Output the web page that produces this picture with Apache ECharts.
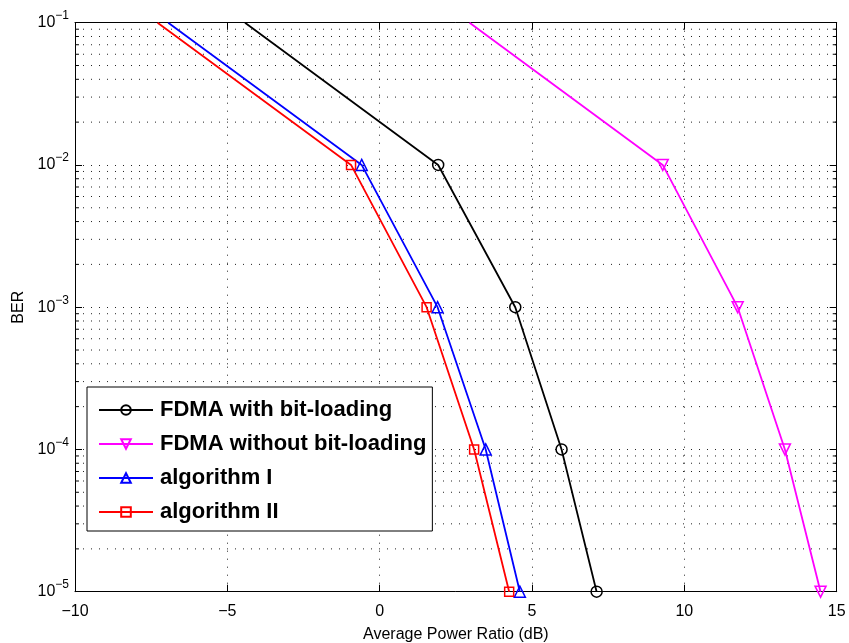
<!DOCTYPE html>
<html>
<head>
<meta charset="utf-8">
<script src="https://cdn.jsdelivr.net/npm/echarts@6/dist/echarts.min.js"></script>
<style>html,body{margin:0;padding:0;background:#fff}#c{width:849px;height:643px}</style>
</head>
<body>
<div id="c"></div>
<script>
// ---- data ----
const berLevels = [1e-1, 1e-2, 1e-3, 1e-4, 1e-5];      // first entry: where each curve enters the plot top
const xWithBL    = [-4.42, 1.92, 4.45, 5.97, 7.12];
const xWithoutBL = [2.95, 9.29, 11.75, 13.30, 14.47];
const xAlg1      = [-6.94, -0.59, 1.90, 3.48, 4.60];
const xAlg2      = [-7.29, -0.94, 1.54, 3.10, 4.25];
const seriesNames = ['FDMA with bit-loading', 'FDMA without bit-loading', 'algorithm I', 'algorithm II'];
const xTicks = [-10, -5, 0, 5, 10, 15];
const decades = [-5, -4, -3, -2];
const minorMult = [2, 3, 4, 5, 6, 7, 8, 9];

const FONT = 'Liberation Sans';
const chart = echarts.init(document.getElementById('c'), null, {renderer: 'canvas'});

function mkData(xs) {
  return xs.map((x, i) => i === 0 ? {value: [x, berLevels[i]], symbol: 'none'} : {value: [x, berLevels[i]]});
}

const dotted = {color: '#222', width: 1, type: [1, 7]};

// minor grid & tick values (log-decade subdivisions)
const minorVals = [];
decades.forEach(d => minorMult.forEach(m => minorVals.push(m * Math.pow(10, d))));
const xMin = xTicks[0], xMax = xTicks[xTicks.length - 1];
const gridData = [];
minorVals.forEach(v => { gridData.push([xMin, v], [xMax, v], [xMin, '-']); });
const tickData = [];
minorVals.forEach(v => {
  tickData.push([xMin, v], [xMin + 0.13, v], [xMin, '-']);
  tickData.push([xMax - 0.13, v], [xMax, v], [xMax, '-']);
});

function lineSeries(name, xs, color, symbol, size, rotate) {
  return {
    name: name, type: 'line', data: mkData(xs), clip: false,
    symbol: symbol, symbolSize: size, symbolRotate: rotate || 0,
    lineStyle: {color: color, width: 1.8},
    itemStyle: {color: 'rgba(0,0,0,0)', borderColor: color, borderWidth: 1.5},
    emphasis: {disabled: true}, z: 3
  };
}

const supLabel = {
  color: '#000', fontFamily: FONT, margin: 6,
  formatter: v => { const e = Math.round(Math.log10(v)); return '{b|10}{s|' + (e < 0 ? '\u2212' + (-e) : e) + '}'; },
  rich: {
    b: {fontSize: 16, fontFamily: FONT, color: '#000', lineHeight: 18},
    s: {fontSize: 12, fontFamily: FONT, color: '#000', lineHeight: 12, padding: [0, 0, 14, 0]}
  }
};

chart.setOption({
  animation: false,
  backgroundColor: '#fff',
  grid: {left: 75, right: 12.3, top: 22.7, bottom: 51.3, containLabel: false, outerBoundsMode: 'none', show: false},
  xAxis: [{
    type: 'value', min: -10, max: 15, interval: 5, position: 'bottom',
    name: 'Average Power Ratio (dB)', nameLocation: 'middle', nameGap: 35,
    nameTextStyle: {fontSize: 16, fontFamily: FONT, color: '#000'},
    axisLine: {show: true, onZero: false, lineStyle: {color: '#000', width: 1}},
    axisTick: {show: true, inside: true, length: 7, lineStyle: {color: '#000'}},
    axisLabel: {fontSize: 16, fontFamily: FONT, color: '#000', margin: 12,
      formatter: v => v < 0 ? '\u2212' + (-v) : '' + v},
    splitLine: {show: true, lineStyle: dotted}
  }, {
    type: 'value', min: -10, max: 15, interval: 5, position: 'top',
    axisLine: {show: true, onZero: false, lineStyle: {color: '#000', width: 1}},
    axisTick: {show: true, inside: true, length: 7, lineStyle: {color: '#000'}},
    axisLabel: {show: false}, splitLine: {show: false}
  }],
  yAxis: [{
    type: 'log', logBase: 10, min: 1e-5, max: 1e-1, position: 'left',
    name: 'BER', nameLocation: 'middle', nameGap: 48, nameRotate: 90,
    nameTextStyle: {fontSize: 16, fontFamily: FONT, color: '#000'},
    axisLine: {show: true, onZero: false, lineStyle: {color: '#000', width: 1}},
    axisTick: {show: true, inside: true, length: 7, lineStyle: {color: '#000'}},
    axisLabel: supLabel,
    splitLine: {show: true, lineStyle: dotted}
  }, {
    type: 'log', logBase: 10, min: 1e-5, max: 1e-1, position: 'right',
    axisLine: {show: true, onZero: false, lineStyle: {color: '#000', width: 1}},
    axisTick: {show: true, inside: true, length: 7, lineStyle: {color: '#000'}},
    axisLabel: {show: false}, splitLine: {show: false}
  }],
  legend: {
    orient: 'vertical', left: 87, top: 387,
    data: seriesNames,
    backgroundColor: '#fff', borderColor: '#000', borderWidth: 1,
    padding: [12, 6, 8, 11],
    itemWidth: 54, itemHeight: 12, itemGap: 12,
    textStyle: {fontSize: 22, fontWeight: 'bold', fontFamily: FONT, color: '#000', lineHeight: 22, padding: [0, 0, 0, 2]},
    selectedMode: false, z: 10
  },
  series: [
    {
      name: 'minor-grid', type: 'line', data: gridData, z: 1, silent: true, clip: false,
      symbol: 'none', connectNulls: false, lineStyle: dotted, emphasis: {disabled: true}
    },
    {
      name: 'minor-ticks', type: 'line', data: tickData, z: 1, silent: true, clip: false,
      symbol: 'none', connectNulls: false, lineStyle: {color: '#000', width: 1}, emphasis: {disabled: true}
    },
    lineSeries(seriesNames[0], xWithBL, '#000000', 'circle', 11),
    lineSeries(seriesNames[1], xWithoutBL, '#ff00ff', 'triangle', 11, 180),
    lineSeries(seriesNames[2], xAlg1, '#0000ff', 'triangle', 11),
    lineSeries(seriesNames[3], xAlg2, '#ff0000', 'rect', 9)
  ]
});
</script>
</body>
</html>
